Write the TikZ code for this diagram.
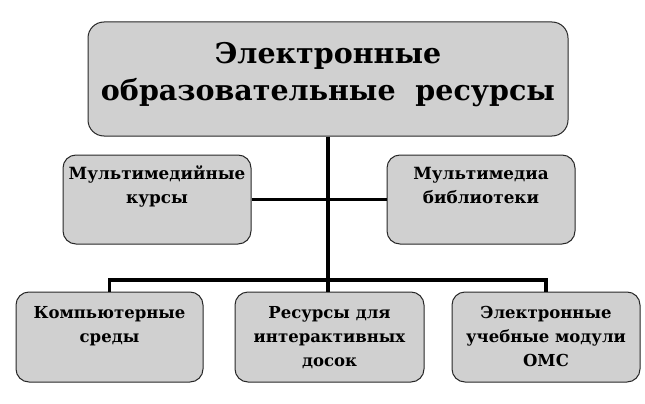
\documentclass[tikz,border=0pt]{standalone}
\usepackage{fontspec}
\newfontfamily\boxserif{DejaVu Serif}
\definecolor{boxfill}{RGB}{208,208,208}
\definecolor{boxedge}{RGB}{40,40,40}
\tikzset{
  box/.style={draw=boxedge, line width=1pt, fill=boxfill, rounded corners=13pt, inner sep=0pt, font=\boxserif\bfseries},
  conn/.style={line width=3.5pt, black}
}
\begin{document}
\begin{tikzpicture}[x=1pt,y=-1pt]
\useasboundingbox (0,0) rectangle (645,404);
\fill[white] (0,0) rectangle (645,404);
% top
\node[box, rounded corners=16pt] (top) at (328,79) {\parbox[c][114pt][t]{480pt}{\centering\fontsize{28.5}{37}\selectfont\rule{0pt}{41pt}Электронные\\образовательные\ \ ресурсы}};
% middle
\node[box] (ml) at (157,199.5) {\parbox[c][89pt][t]{188pt}{\centering\fontsize{16.8}{24}\selectfont\rule{0pt}{24pt}Мультимедийные\\курсы}};
\node[box] (mr) at (481,199.5) {\parbox[c][89pt][t]{188pt}{\centering\fontsize{16.8}{24}\selectfont\rule{0pt}{24pt}Мультимедиа\\библиотеки}};
% bottom
\node[box] (bl) at (109.5,337) {\parbox[c][90pt][t]{187pt}{\centering\fontsize{16.5}{24}\selectfont\rule{0pt}{26pt}Компьютерные\\среды}};
\node[box] (bm) at (329.5,337) {\parbox[c][90pt][t]{189pt}{\centering\fontsize{16.5}{24}\selectfont\rule{0pt}{26pt}Ресурсы для\\интерактивных\\досок}};
\node[box] (br) at (546,337) {\parbox[c][90pt][t]{188pt}{\centering\fontsize{16.5}{24}\selectfont\rule{0pt}{26pt}Электронные\\учебные модули\\ОМС}};
% connectors
\coordinate (j1) at (328,199.5);
\coordinate (j2) at (328,280);
\draw[conn] (top.south) -- (j2);
\draw[conn] (ml.east) -- (mr.west);
\draw[conn] (bl.north) |- (j2) -| (br.north);
\draw[conn] (j2) -- (j2 |- bm.north);
\end{tikzpicture}
\end{document}
